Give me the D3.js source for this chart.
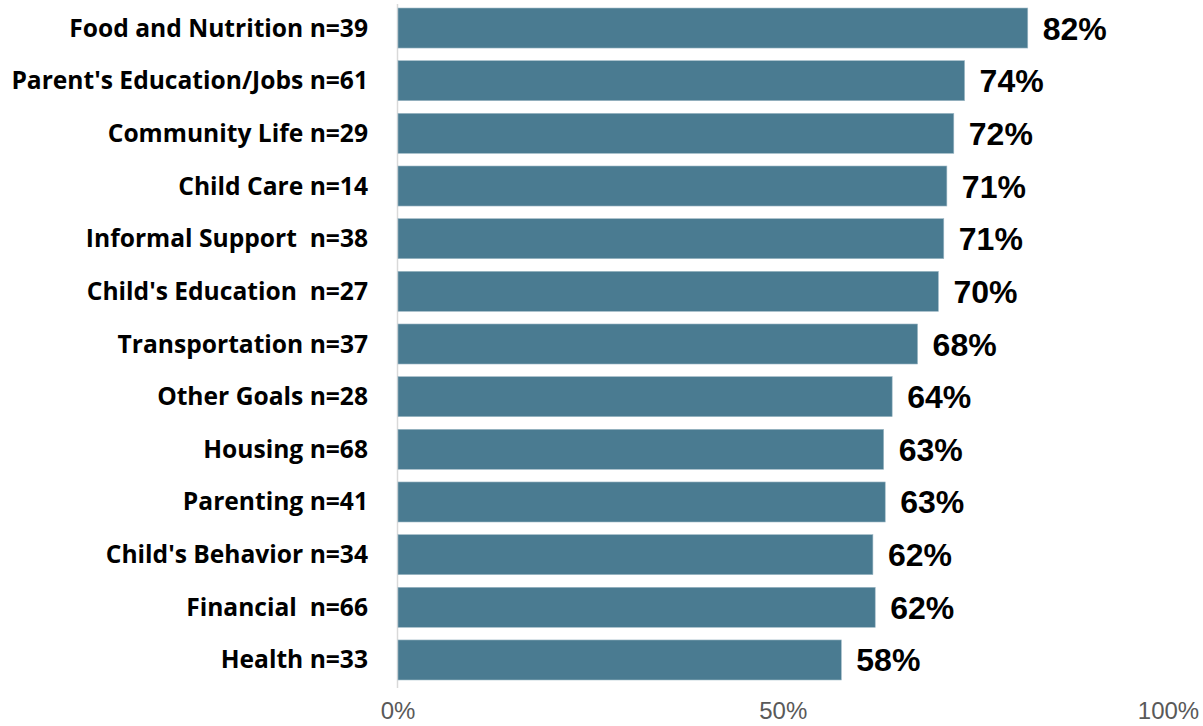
<!DOCTYPE html>
<html>
<head>
<meta charset="utf-8">
<script src="https://cdn.jsdelivr.net/npm/d3@7/dist/d3.min.js"></script>
<style>
  html, body { margin: 0; padding: 0; background: #fff; }
  svg { display: block; }
</style>
</head>
<body>
<svg id="chart" width="1203" height="726"></svg>
<script>
const categories = [
  "Food and Nutrition n=39",
  "Parent's Education/Jobs n=61",
  "Community Life n=29",
  "Child Care n=14",
  "Informal Support  n=38",
  "Child's Education  n=27",
  "Transportation n=37",
  "Other Goals n=28",
  "Housing n=68",
  "Parenting n=41",
  "Child's Behavior n=34",
  "Financial  n=66",
  "Health n=33"
];
const values = [81.8, 73.6, 72.2, 71.3, 70.9, 70.2, 67.5, 64.2, 63.1, 63.3, 61.7, 62.0, 57.6];
const valueLabels = ["82%", "74%", "72%", "71%", "71%", "70%", "68%", "64%", "63%", "63%", "62%", "62%", "58%"];
const tickValues = [0, 50, 100];
const tickLabels = ["0%", "50%", "100%"];

const svg = d3.select("#chart");
const x = d3.scaleLinear().domain([0, 100]).range([397.5, 1168]);
const y = d3.scaleBand().domain(categories).range([1.7, 686.3]).paddingInner(0.24).paddingOuter(0.12);

// axis line
svg.append("line")
  .attr("x1", x(0)).attr("x2", x(0))
  .attr("y1", 4).attr("y2", 688)
  .attr("stroke", "#d9d9d9").attr("stroke-width", 1.5);

// bars
svg.append("g").selectAll("rect")
  .data(values)
  .join("rect")
  .attr("x", x(0) + 0.5)
  .attr("y", (d, i) => y(categories[i]))
  .attr("width", d => x(d) - x(0) - 0.5)
  .attr("height", y.bandwidth())
  .attr("fill", "#4a7b91")
  .attr("stroke", "#9fb9c6")
  .attr("stroke-width", 0.6);

// value labels
svg.append("g").selectAll("text")
  .data(values)
  .join("text")
  .attr("x", d => x(d) + 15)
  .attr("y", (d, i) => y(categories[i]) + y.bandwidth() / 2 + 11.5)
  .attr("font-family", "'Liberation Sans', Arial, sans-serif")
  .attr("font-weight", "bold")
  .attr("font-size", 32)
  .attr("fill", "#000")
  .text((d, i) => valueLabels[i]);

// category labels
svg.append("g").selectAll("text")
  .data(categories)
  .join("text")
  .attr("x", 368)
  .attr("y", d => y(d) + y.bandwidth() / 2 + 8.5)
  .attr("text-anchor", "end")
  .attr("font-family", "'Open Sans', Lato, sans-serif")
  .attr("font-weight", "bold")
  .attr("font-size", 24.6)
  .attr("fill", "#000")
  .attr("xml:space", "preserve")
  .style("white-space", "pre")
  .text(d => d);

// x axis tick labels
const xAxis = d3.axisBottom(x).tickValues(tickValues).tickFormat((d, i) => tickLabels[i]).tickSize(0);
const gx = svg.append("g").attr("transform", "translate(0,699)").call(xAxis);
gx.select(".domain").remove();
gx.selectAll("text")
  .attr("font-family", "'Liberation Sans', Arial, sans-serif")
  .attr("font-size", 24)
  .attr("fill", "#595959");
</script>
</body>
</html>
